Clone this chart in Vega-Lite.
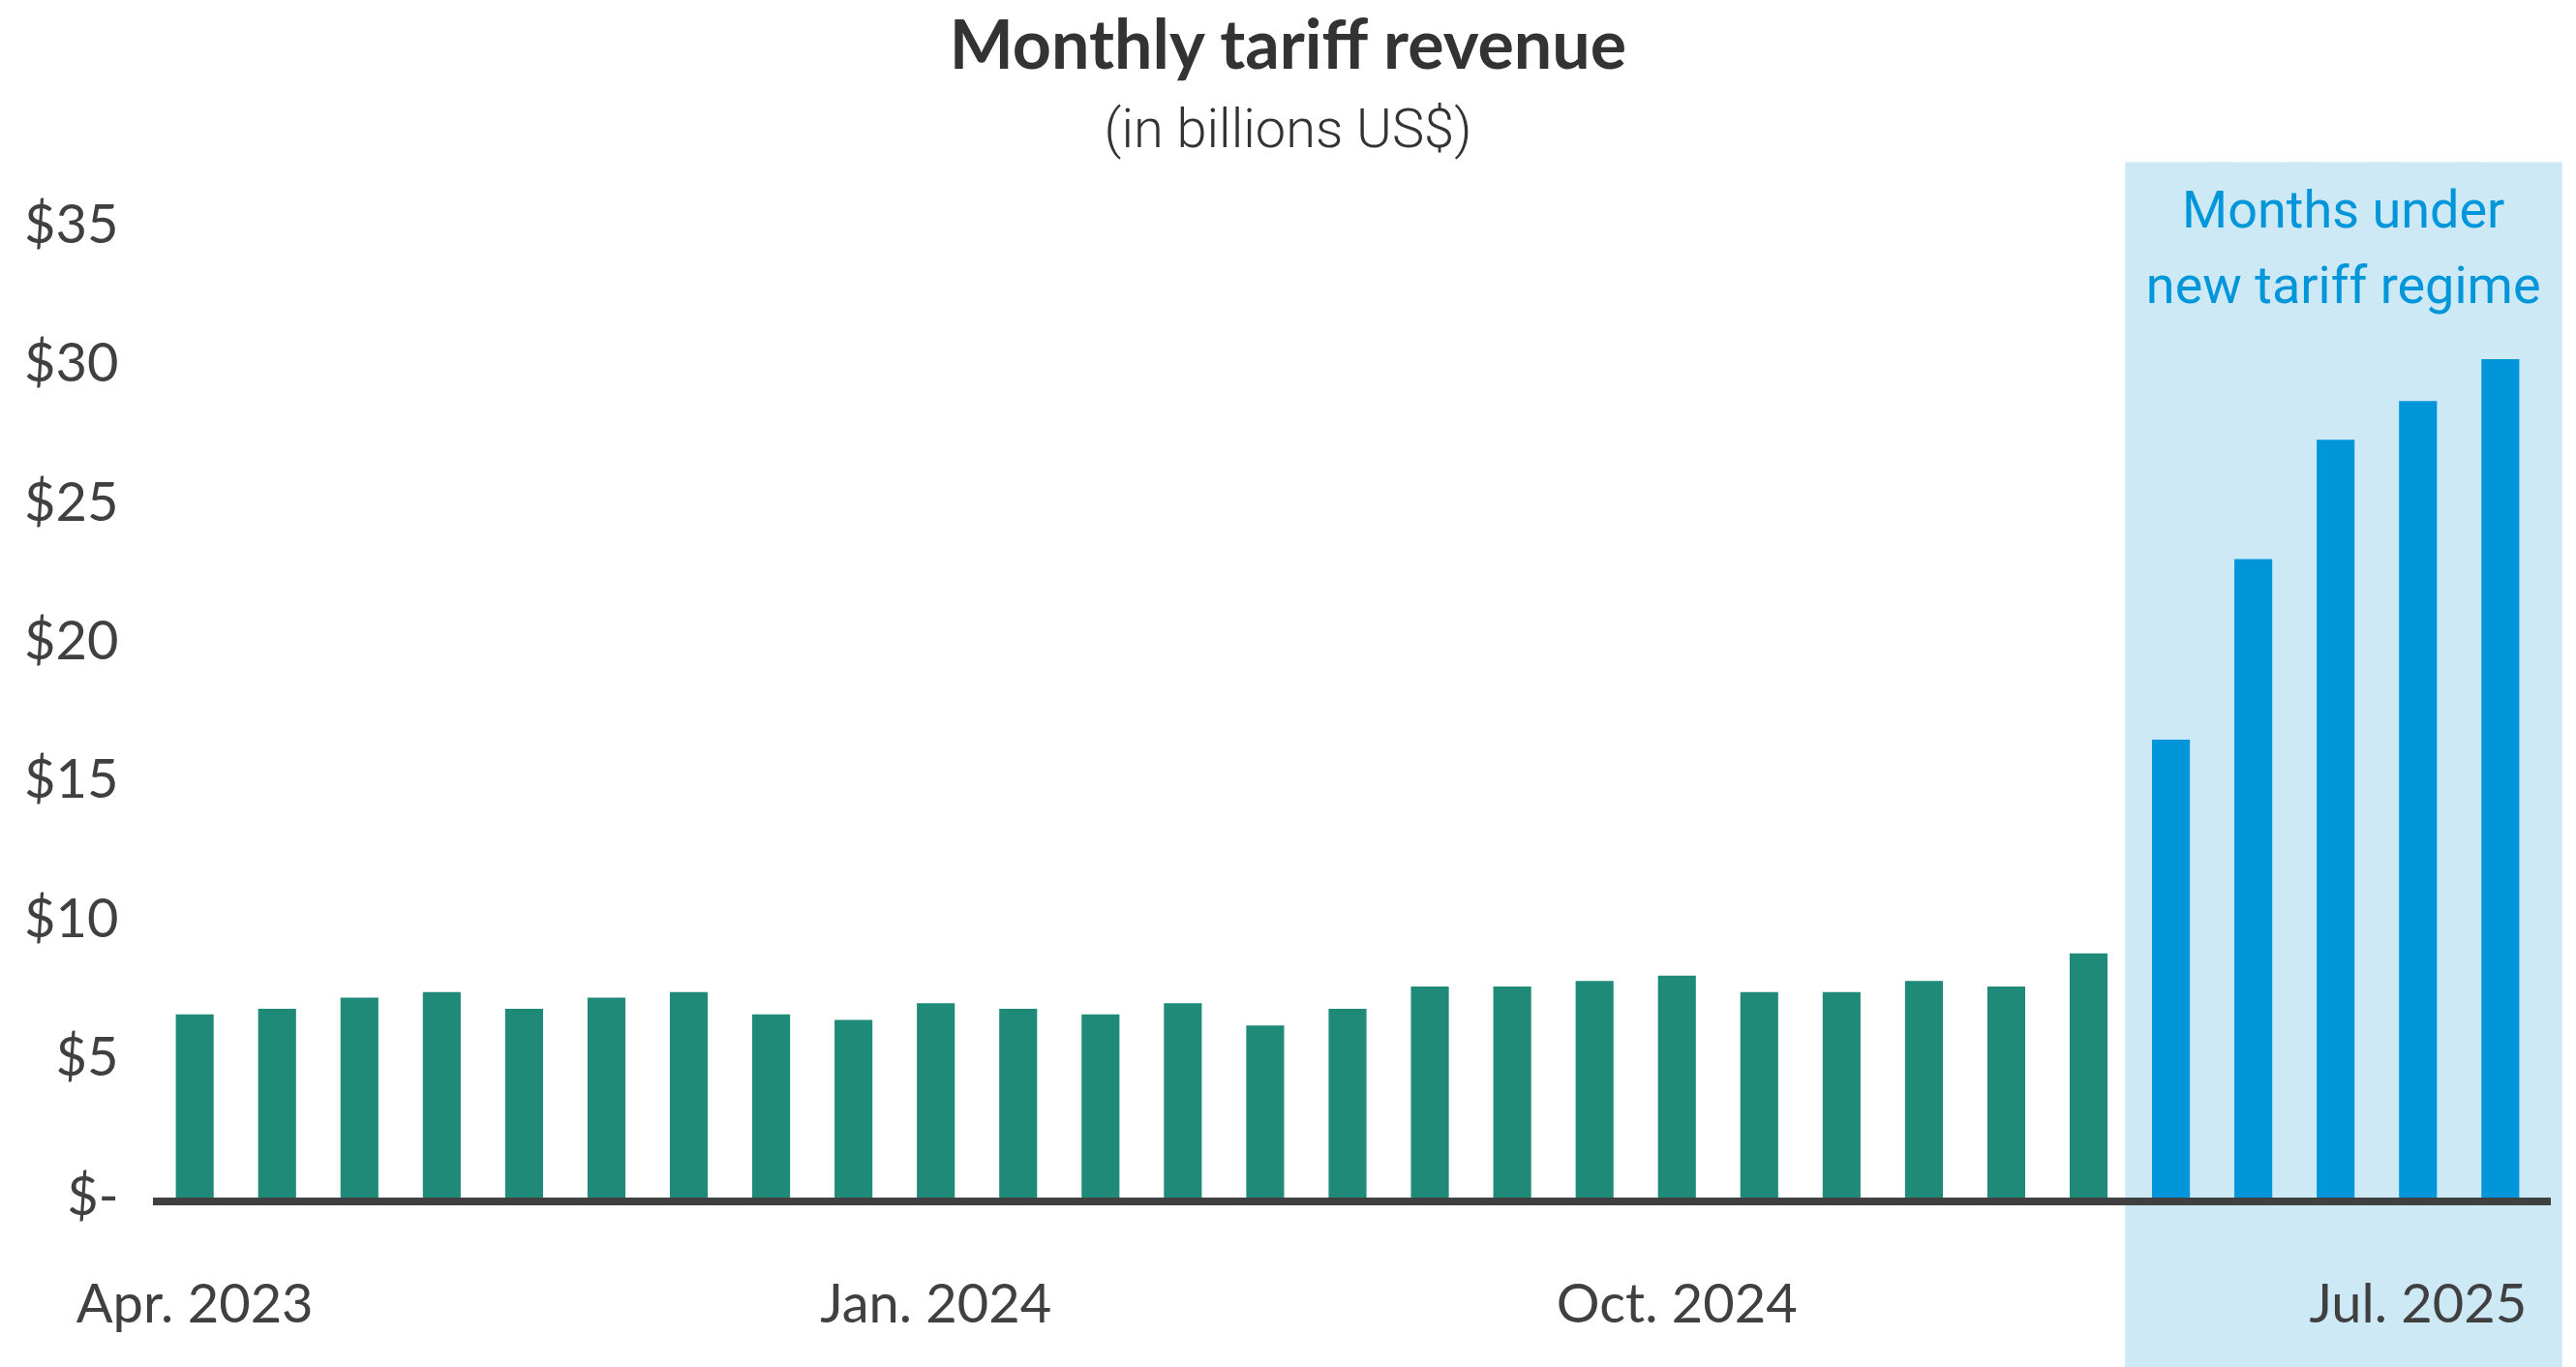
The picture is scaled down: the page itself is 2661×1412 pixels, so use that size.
{
  "$schema": "https://vega.github.io/schema/vega-lite/v6.json",
  "description": "Monthly tariff revenue, Apr. 2023 - Aug. 2025",
  "width": 2477,
  "height": 1003.5,
  "autosize": {"type": "none"},
  "padding": {"left": 158, "top": 233.5, "right": 26, "bottom": 175},
  "background": "white",
  "title": {
    "text": "Monthly tariff revenue",
    "subtitle": "(in billions US$)",
    "anchor": "middle",
    "dx": -66,
    "offset": 4,
    "font": "Lato",
    "fontSize": 70,
    "fontWeight": "bold",
    "color": "#333333",
    "subtitleFont": "Roboto",
    "subtitleFontSize": 56,
    "subtitleFontWeight": 300,
    "subtitleColor": "#333333",
    "subtitlePadding": 22
  },
  "data": {
    "values": [
      {"month": "Apr. 2023", "value": 6.6, "regime": "Before"},
      {"month": "May 2023", "value": 6.8, "regime": "Before"},
      {"month": "Jun. 2023", "value": 7.2, "regime": "Before"},
      {"month": "Jul. 2023", "value": 7.4, "regime": "Before"},
      {"month": "Aug. 2023", "value": 6.8, "regime": "Before"},
      {"month": "Sep. 2023", "value": 7.2, "regime": "Before"},
      {"month": "Oct. 2023", "value": 7.4, "regime": "Before"},
      {"month": "Nov. 2023", "value": 6.6, "regime": "Before"},
      {"month": "Dec. 2023", "value": 6.4, "regime": "Before"},
      {"month": "Jan. 2024", "value": 7.0, "regime": "Before"},
      {"month": "Feb. 2024", "value": 6.8, "regime": "Before"},
      {"month": "Mar. 2024", "value": 6.6, "regime": "Before"},
      {"month": "Apr. 2024", "value": 7.0, "regime": "Before"},
      {"month": "May 2024", "value": 6.2, "regime": "Before"},
      {"month": "Jun. 2024", "value": 6.8, "regime": "Before"},
      {"month": "Jul. 2024", "value": 7.6, "regime": "Before"},
      {"month": "Aug. 2024", "value": 7.6, "regime": "Before"},
      {"month": "Sep. 2024", "value": 7.8, "regime": "Before"},
      {"month": "Oct. 2024", "value": 8.0, "regime": "Before"},
      {"month": "Nov. 2024", "value": 7.4, "regime": "Before"},
      {"month": "Dec. 2024", "value": 7.4, "regime": "Before"},
      {"month": "Jan. 2025", "value": 7.8, "regime": "Before"},
      {"month": "Feb. 2025", "value": 7.6, "regime": "Before"},
      {"month": "Mar. 2025", "value": 8.8, "regime": "Before"},
      {"month": "Apr. 2025", "value": 16.5, "regime": "New"},
      {"month": "May 2025", "value": 23.0, "regime": "New"},
      {"month": "Jun. 2025", "value": 27.3, "regime": "New"},
      {"month": "Jul. 2025", "value": 28.7, "regime": "New"},
      {"month": "Aug. 2025", "value": 30.2, "regime": "New"}
    ]
  },
  "layer": [
    {
      "transform": [{"filter": "datum.regime == 'New'"}],
      "mark": {"type": "bar", "width": 111.3, "xOffset": 8.3, "color": "#cde9f6"},
      "encoding": {
        "x": {"field": "month", "type": "ordinal"},
        "y": {"datum": 37.3},
        "y2": {"datum": -6.1}
      }
    },
    {
      "mark": "bar",
      "encoding": {
        "x": {
          "field": "month",
          "type": "ordinal",
          "scale": {
            "domain": ["Apr. 2023", "May 2023", "Jun. 2023", "Jul. 2023", "Aug. 2023", "Sep. 2023", "Oct. 2023", "Nov. 2023", "Dec. 2023",
                       "Jan. 2024", "Feb. 2024", "Mar. 2024", "Apr. 2024", "May 2024", "Jun. 2024", "Jul. 2024", "Aug. 2024", "Sep. 2024",
                       "Oct. 2024", "Nov. 2024", "Dec. 2024", "Jan. 2025", "Feb. 2025", "Mar. 2025", "Apr. 2025", "May 2025", "Jun. 2025",
                       "Jul. 2025", "Aug. 2025"],
            "paddingInner": 0.54,
            "paddingOuter": 0.3305,
            "align": 0.42
          },
          "axis": {
            "values": ["Apr. 2023", "Jan. 2024", "Oct. 2024", "Jul. 2025"],
            "title": null,
            "domain": false,
            "ticks": false,
            "tickSize": 0,
            "labelAngle": 0,
            "labelAlign": "center",
            "labelFont": "Lato",
            "labelFontSize": 56,
            "labelColor": "#404040",
            "labelPadding": 128,
            "labelBaseline": "alphabetic",
            "labelLimit": 0,
            "labelOverlap": false,
            "zindex": 1
          }
        },
        "y": {
          "field": "value",
          "type": "quantitative",
          "scale": {"domain": [0, 35], "nice": false},
          "axis": {
            "values": [0, 5, 10, 15, 20, 25, 30, 35],
            "labelExpr": "datum.value == 0 ? '$-' : '$' + datum.label",
            "title": null,
            "domain": false,
            "ticks": false,
            "tickSize": 0,
            "grid": false,
            "labelFont": "Lato",
            "labelFontSize": 56,
            "labelColor": "#404040",
            "labelPadding": 36,
            "zindex": 1
          }
        },
        "color": {
          "field": "regime",
          "type": "nominal",
          "scale": {"domain": ["Before", "New"], "range": ["#1e8a77", "#0096d9"]},
          "legend": null
        }
      }
    },
    {
      "data": {"values": [{}]},
      "mark": {"type": "rule", "strokeWidth": 8, "yOffset": 4, "color": "#404040"},
      "encoding": {"y": {"datum": 0}}
    },
    {
      "transform": [{"filter": "datum.month == 'Jun. 2025'"}],
      "mark": {
        "type": "text",
        "align": "center",
        "baseline": "middle",
        "dx": 8,
        "lineHeight": 78,
        "font": "Roboto",
        "fontSize": 54,
        "color": "#0096d9"
      },
      "encoding": {
        "x": {"field": "month", "type": "ordinal"},
        "y": {"datum": 35.5},
        "text": {"value": ["Months under", "new tariff regime"]}
      }
    }
  ],
  "config": {"view": {"stroke": null}}
}
